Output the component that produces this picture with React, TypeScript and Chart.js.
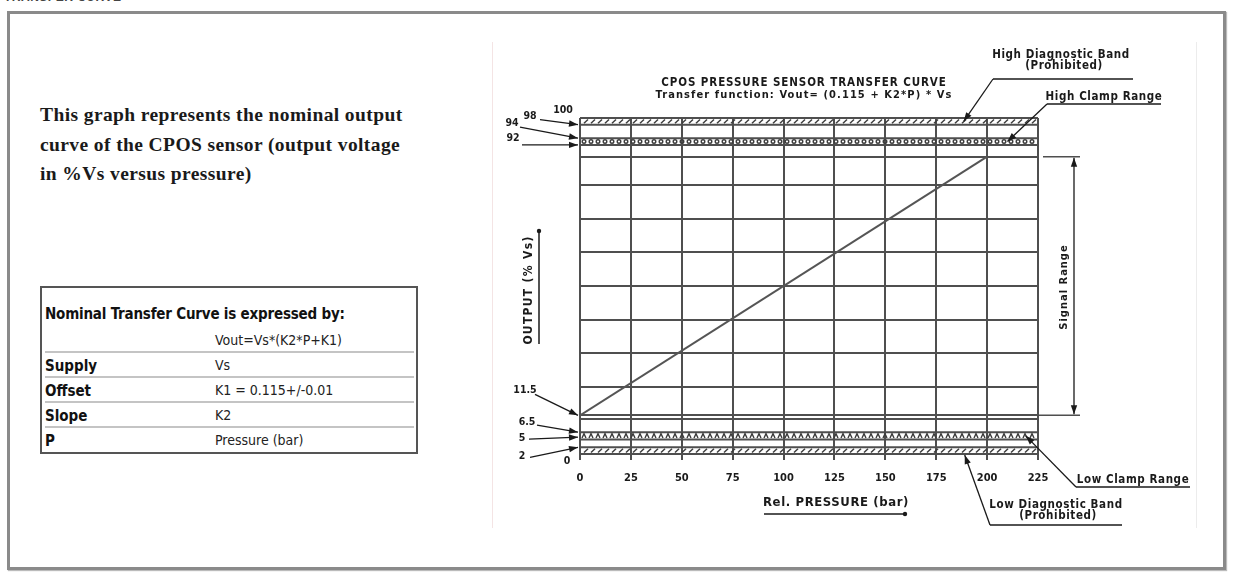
import React, { useEffect, useRef } from "react";
import { Chart, registerables } from "chart.js";

Chart.register(...registerables);

// ---------- data ----------
const pressureTicks = [0, 25, 50, 75, 100, 125, 150, 175, 200, 225];
const curvePressure = [0, 200];
const curveOutput = [11.5, 88.5];
const outputGridLines = [10.3, 11.5, 20, 30, 40, 50, 60, 70, 80, 88.5];
const highDiagBand = [98, 100];
const highClampBand = [92, 94];
const lowClampBand = [4.3, 6.5];
const lowDiagBand = [0, 2];
const levelLabels = ["100", "98", "94", "92", "11.5", "6.5", "5", "2", "0"];
const levelValues = [100, 98, 94, 92, 11.5, 6.5, 5, 2, 0];
const signalRange = [11.5, 88.5];
const chartTitle = ["CPOS PRESSURE SENSOR TRANSFER CURVE", "Transfer function: Vout= (0.115 + K2*P) * Vs"];
const xAxisTitle = "Rel. PRESSURE (bar)";
const yAxisTitle = "OUTPUT (% Vs)";
const tableRowsLabel = ["", "Supply", "Offset", "Slope", "P"];
const tableRowsValue = ["Vout=Vs*(K2*P+K1)", "Vs", "K1 = 0.115+/-0.01", "K2", "Pressure (bar)"];

const CAD = '"DejaVu Sans Condensed", "Liberation Sans Narrow", "DejaVu Sans", sans-serif';
const NARROW = '"Liberation Sans Narrow", "DejaVu Sans Condensed", "Liberation Sans", sans-serif';
const INK = "#1a1a1a";
const GRID = "#4f4f4f";

// label layout (offsets in px relative to the chart area's left edge and value pixel)
const labelLayout: Record<string, { dx: number; dy: number; arrow?: [number, number, number, number] }> = {
  "100": { dx: -17, dy: -8 },
  "98": { dx: -50, dy: -8, arrow: [-40, -5, -2, 0] },
  "94": { dx: -68, dy: -15, arrow: [-60, -11, -2, 0] },
  "92": { dx: -67, dy: -7, arrow: [-58, 0, -2, 0] },
  "11.5": { dx: -55, dy: -25, arrow: [-45, -21, -2, 0] },
  "6.5": { dx: -53, dy: -10, arrow: [-43, -7, -2, 0] },
  "5": { dx: -58, dy: 1, arrow: [-51, 2, -2, 0] },
  "2": { dx: -58, dy: 9, arrow: [-50, 10, -2, 0] },
  "0": { dx: -13, dy: 7 },
};

function drawArrow(ctx: CanvasRenderingContext2D, x1: number, y1: number, x2: number, y2: number, head = 9, hw = 3.2) {
  ctx.beginPath();
  ctx.moveTo(x1, y1);
  ctx.lineTo(x2, y2);
  ctx.stroke();
  const a = Math.atan2(y2 - y1, x2 - x1);
  ctx.beginPath();
  ctx.moveTo(x2, y2);
  ctx.lineTo(x2 - head * Math.cos(a) + hw * Math.sin(a), y2 - head * Math.sin(a) - hw * Math.cos(a));
  ctx.lineTo(x2 - head * Math.cos(a) - hw * Math.sin(a), y2 - head * Math.sin(a) + hw * Math.cos(a));
  ctx.closePath();
  ctx.fill();
}

function spaced(ctx: any, s: number) {
  if ("letterSpacing" in ctx) ctx.letterSpacing = `${s}px`;
}

const sketchPlugin = {
  id: "sketch",
  beforeDatasetsDraw(chart: any) {
    const { ctx, chartArea: ca, scales } = chart;
    const ys = scales.y;
    const bands: [number[], string][] = [
      [highDiagBand, "hatch"],
      [highClampBand, "beads"],
      [lowClampBand, "chevron"],
      [lowDiagBand, "hatch"],
    ];
    ctx.save();
    bands.forEach(([b, pat]) => {
      const yT = ys.getPixelForValue(b[1]);
      const yB = ys.getPixelForValue(b[0]);
      ctx.strokeStyle = GRID;
      ctx.lineWidth = 2;
      ctx.beginPath();
      ctx.moveTo(ca.left, yT);
      ctx.lineTo(ca.right, yT);
      ctx.moveTo(ca.left, yB);
      ctx.lineTo(ca.right, yB);
      ctx.stroke();
      ctx.lineWidth = 1.4;
      ctx.strokeStyle = "#3c3c3c";
      const mid = (yT + yB) / 2;
      for (let x = ca.left + 4; x < ca.right - 3; x += 7) {
        ctx.beginPath();
        if (pat === "hatch") {
          ctx.moveTo(x, yB - 1.5);
          ctx.lineTo(x + 4, yT + 1.5);
        } else if (pat === "beads") {
          ctx.arc(x, mid, 1.8, 0, Math.PI * 2);
        } else {
          ctx.moveTo(x - 2, yB - 1.5);
          ctx.lineTo(x, yT + 1.5);
          ctx.lineTo(x + 2, yB - 1.5);
        }
        ctx.stroke();
      }
    });
    ctx.restore();
  },
  afterDraw(chart: any) {
    const { ctx, chartArea: ca, scales } = chart;
    const xs = scales.x;
    const ys = scales.y;
    const px = (X: number) => ca.left + X - 580;
    const py = (Y: number) => ca.top + Y - 118;
    ctx.save();
    ctx.fillStyle = INK;
    ctx.strokeStyle = INK;
    ctx.lineWidth = 1.3;
    ctx.textAlign = "center";
    ctx.textBaseline = "middle";

    // title
    ctx.font = `bold 11.5px ${CAD}`;
    spaced(ctx, 0.9);
    ctx.fillText(chartTitle[0], px(804), py(83));
    ctx.font = `bold 11px ${CAD}`;
    spaced(ctx, 1.1);
    ctx.fillText(chartTitle[1], px(804), py(95));

    // level labels with arrows
    ctx.font = `bold 10.5px ${CAD}`;
    spaced(ctx, 0);
    levelLabels.forEach((t, i) => {
      const L = labelLayout[t];
      const vy = ys.getPixelForValue(levelValues[i]);
      ctx.fillText(t, ca.left + L.dx, vy + L.dy);
      if (L.arrow) {
        const [sx, sy, ex, ey] = L.arrow;
        drawArrow(ctx, ca.left + sx, vy + sy, ca.left + ex, vy + ey);
      }
    });

    // y axis title (rotated)
    ctx.save();
    ctx.translate(px(529), py(290));
    ctx.rotate(-Math.PI / 2);
    ctx.font = `bold 12px ${CAD}`;
    spaced(ctx, 1.3);
    ctx.fillText(yAxisTitle, 0, 0);
    ctx.restore();
    ctx.lineWidth = 1.5;
    ctx.beginPath();
    ctx.moveTo(px(539), py(344));
    ctx.lineTo(px(539), py(232));
    ctx.stroke();
    ctx.beginPath();
    ctx.arc(px(539), py(231), 2.2, 0, Math.PI * 2);
    ctx.fill();

    // x axis title
    ctx.font = `bold 13px ${CAD}`;
    spaced(ctx, 0.6);
    ctx.fillText(xAxisTitle, px(836), py(503));
    ctx.beginPath();
    ctx.moveTo(px(764), py(514));
    ctx.lineTo(px(904), py(514));
    ctx.stroke();
    ctx.beginPath();
    ctx.arc(px(905), py(514), 2.2, 0, Math.PI * 2);
    ctx.fill();

    // signal range dimension
    const yTop = ys.getPixelForValue(signalRange[1]);
    const yBot = ys.getPixelForValue(signalRange[0]);
    ctx.strokeStyle = GRID;
    ctx.lineWidth = 1.5;
    ctx.beginPath();
    ctx.moveTo(ca.right + 5, yTop);
    ctx.lineTo(px(1080), yTop);
    ctx.moveTo(ca.right, yBot);
    ctx.lineTo(px(1080), yBot);
    ctx.stroke();
    ctx.strokeStyle = INK;
    ctx.lineWidth = 1.3;
    const mid = (yTop + yBot) / 2;
    drawArrow(ctx, px(1074), mid, px(1074), yTop + 1);
    drawArrow(ctx, px(1074), mid, px(1074), yBot - 1);
    ctx.save();
    ctx.translate(px(1064), mid + 1);
    ctx.rotate(-Math.PI / 2);
    ctx.font = `bold 11px ${CAD}`;
    spaced(ctx, 1);
    ctx.fillText("Signal Range", 0, 0);
    ctx.restore();

    // callouts
    ctx.font = `bold 11.5px ${CAD}`;
    spaced(ctx, 0.6);
    // High diagnostic band
    ctx.fillText("High Diagnostic Band", px(1061), py(55));
    ctx.fillText("(Prohibited)", px(1064), py(66));
    ctx.beginPath();
    ctx.moveTo(px(1133), py(79));
    ctx.lineTo(px(993), py(79));
    ctx.stroke();
    drawArrow(ctx, px(993), py(79), xs.getPixelForValue(188.5), ys.getPixelForValue(99));
    // High clamp range
    ctx.fillText("High Clamp Range", px(1104), py(97));
    ctx.beginPath();
    ctx.moveTo(px(1161), py(104));
    ctx.lineTo(px(1047), py(104));
    ctx.stroke();
    drawArrow(ctx, px(1047), py(104), xs.getPixelForValue(210), ys.getPixelForValue(93));
    // Low clamp range
    ctx.fillText("Low Clamp Range", px(1133), py(480));
    ctx.beginPath();
    ctx.moveTo(px(1190), py(487));
    ctx.lineTo(px(1076), py(487));
    ctx.stroke();
    drawArrow(ctx, px(1076), py(487), xs.getPixelForValue(219), ys.getPixelForValue(5.4));
    // Low diagnostic band
    ctx.fillText("Low Diagnostic Band", px(1056), py(505));
    ctx.fillText("(Prohibited)", px(1058), py(516));
    ctx.beginPath();
    ctx.moveTo(px(1122), py(525));
    ctx.lineTo(px(990), py(525));
    ctx.stroke();
    drawArrow(ctx, px(990), py(525), xs.getPixelForValue(189), ys.getPixelForValue(-0.3));

    ctx.restore();
  },
};

function TransferChart() {
  const ref = useRef<HTMLCanvasElement>(null);
  useEffect(() => {
    if (!ref.current) return;
    const chart = new Chart(ref.current, {
      type: "line",
      data: {
        datasets: [
          {
            data: curvePressure.map((p, i) => ({ x: p, y: curveOutput[i] })),
            borderColor: "#555",
            borderWidth: 2,
            pointRadius: 0,
            fill: false,
          },
        ],
      },
      options: {
        animation: false,
        responsive: false,
        layout: { padding: { left: 88, right: 159, top: 76, bottom: 44 } },
        plugins: { legend: { display: false }, tooltip: { enabled: false }, title: { display: false } },
        scales: {
          x: {
            type: "linear",
            min: 0,
            max: 225,
            afterBuildTicks: (s: any) => {
              s.ticks = pressureTicks.map((v) => ({ value: v }));
            },
            afterFit: (s: any) => {
              s.height = 30;
            },
            grid: { color: GRID, lineWidth: 2, drawTicks: true, tickLength: 6, tickColor: GRID },
            border: { display: false },
            ticks: {
              padding: 12,
              color: INK,
              maxRotation: 0,
              autoSkip: false,
              font: { family: CAD, size: 11, weight: "bold" },
            },
          },
          y: {
            type: "linear",
            min: 0,
            max: 100,
            afterBuildTicks: (s: any) => {
              s.ticks = outputGridLines.map((v) => ({ value: v }));
            },
            afterFit: (s: any) => {
              s.width = 0;
            },
            grid: { color: GRID, lineWidth: 2, drawTicks: false },
            border: { display: false },
            ticks: { display: false },
          },
        },
      } as any,
      plugins: [sketchPlugin],
    });
    return () => chart.destroy();
  }, []);
  return (
    <canvas
      ref={ref}
      width={705}
      height={486}
      style={{ position: "absolute", left: 492, top: 42, width: 705, height: 486 }}
    />
  );
}

export default function App() {
  const para = [
    "This graph represents the nominal output",
    "curve of the CPOS sensor (output voltage",
    "in %Vs versus pressure)",
  ];
  return (
    <div
      style={{
        position: "absolute",
        left: 0,
        top: 0,
        width: 1238,
        height: 577,
        background: "#fff",
        overflow: "hidden",
        filter: "blur(0.4px)",
      }}
    >
      <div
        style={{
          position: "absolute",
          left: 4,
          top: -10,
          font: 'bold 12px "Liberation Sans", sans-serif',
          color: "#444",
          letterSpacing: 0.5,
        }}
      >
        TRANSFER CURVE
      </div>
      <div
        style={{
          position: "absolute",
          left: 7,
          top: 11,
          width: 1213,
          height: 553,
          border: "3px solid #8a8a8a",
          boxShadow: "1px 1px 1px #bbb",
        }}
      />
      {para.map((t, i) => (
        <div
          key={i}
          style={{
            position: "absolute",
            left: 40,
            top: 104 + i * 29.5,
            font: 'bold 19.5px "Liberation Serif", serif',
            letterSpacing: 0.4,
            color: "#1a1a1a",
            whiteSpace: "nowrap",
          }}
        >
          {t}
        </div>
      ))}
      <div
        style={{
          position: "absolute",
          left: 40,
          top: 286,
          width: 378,
          height: 168,
          border: "2px solid #555",
          boxSizing: "border-box",
        }}
      >
        <div
          style={{
            position: "absolute",
            left: 3,
            top: 17,
            font: `900 15px ${NARROW}`,
            color: "#111",
            whiteSpace: "nowrap",
            letterSpacing: -0.2,
          }}
        >
          Nominal Transfer Curve is expressed by:
        </div>
        {tableRowsValue.map((v, i) => (
          <React.Fragment key={i}>
            <div
              style={{
                position: "absolute",
                left: 3,
                top: 44 + i * 25,
                font: `bold 15px ${NARROW}`,
                color: "#111",
                whiteSpace: "nowrap",
              }}
            >
              {tableRowsLabel[i]}
            </div>
            <div
              style={{
                position: "absolute",
                left: 173,
                top: 44 + i * 25,
                font: `14px ${NARROW}`,
                color: "#222",
                whiteSpace: "nowrap",
              }}
            >
              {v}
            </div>
            {i < tableRowsValue.length - 1 && (
              <div
                style={{
                  position: "absolute",
                  left: 3,
                  width: 369,
                  top: 63 + i * 25,
                  height: 2,
                  background: "#c4c4c4",
                }}
              />
            )}
          </React.Fragment>
        ))}
      </div>
      <div style={{ position: "absolute", left: 492, top: 42, width: 1, height: 486, background: "#f4e4e4" }} />
      <div style={{ position: "absolute", left: 1196, top: 42, width: 1, height: 486, background: "#ececec" }} />
      <TransferChart />
    </div>
  );
}
